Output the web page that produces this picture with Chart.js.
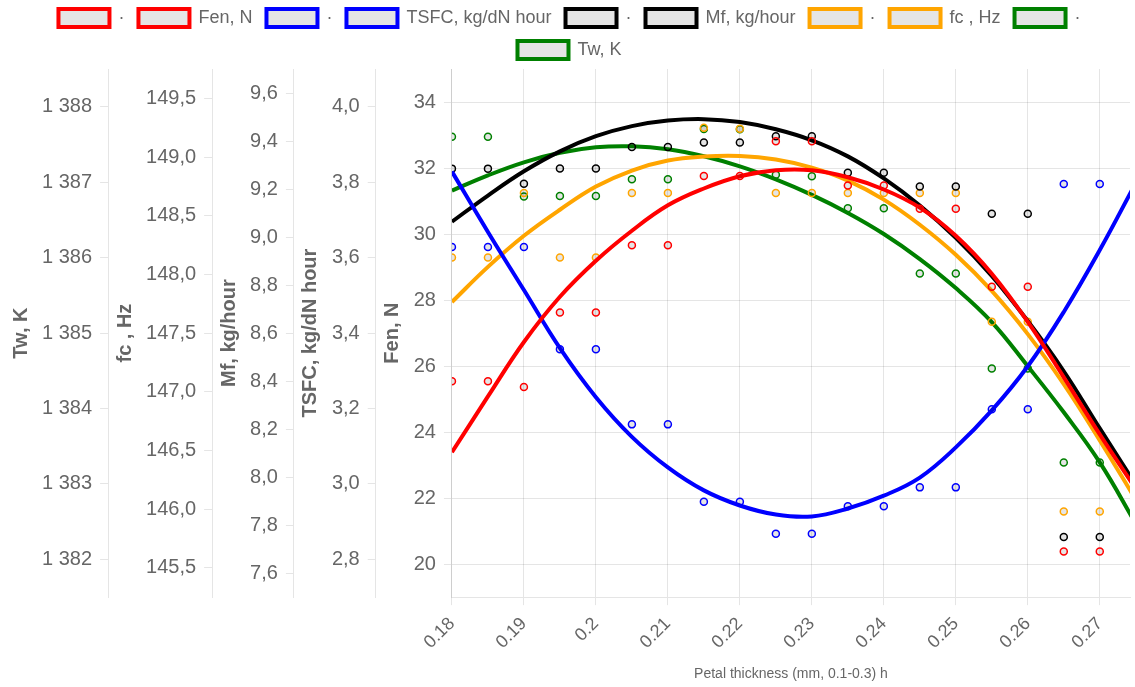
<!DOCTYPE html>
<html>
<head>
<meta charset="utf-8">
<script src="https://cdn.jsdelivr.net/npm/chart.js@4.4.1/dist/chart.umd.min.js"></script>
<style>
  html, body { margin: 0; padding: 0; background: #fff; overflow: hidden; }
  #wrap { position: absolute; left: 0; top: -5px; width: 1135px; height: 692px; }
</style>
</head>
<body>
<div id="wrap"><canvas id="chart"></canvas></div>
<script>
// measured points (petal thickness, mm)
const thickness = [0.18, 0.185, 0.19, 0.195, 0.2, 0.205, 0.21, 0.215, 0.22, 0.225,
                   0.23, 0.235, 0.24, 0.245, 0.25, 0.255, 0.26, 0.265, 0.27];
const fenPoints  = [25.54, 25.54, 25.37, 27.62, 27.62, 29.66, 29.66, 31.76, 31.76, 32.81,
                    32.81, 31.47, 31.47, 30.77, 30.77, 28.4, 28.4, 20.38, 20.38];
const tsfcPoints = [3.628, 3.628, 3.628, 3.357, 3.357, 3.158, 3.158, 2.953, 2.953, 2.868,
                    2.868, 2.941, 2.941, 2.991, 2.991, 3.198, 3.198, 3.795, 3.795];
const mfPoints   = [9.285, 9.285, 9.222, 9.286, 9.286, 9.375, 9.375, 9.394, 9.394, 9.42,
                    9.42, 9.268, 9.268, 9.211, 9.211, 9.097, 9.097, 7.751, 7.751];
const fcPoints   = [148.144, 148.144, 148.694, 148.144, 148.144, 148.694, 148.694, 149.25, 149.24, 148.694,
                    148.694, 148.694, 148.694, 148.694, 148.694, 147.597, 147.597, 145.979, 145.979];
const twPoints   = [1387.602, 1387.602, 1386.809, 1386.818, 1386.818, 1387.04, 1387.04, 1387.704, 1387.70, 1387.097,
                    1387.08, 1386.655, 1386.655, 1385.791, 1385.791, 1384.53, 1384.53, 1383.286, 1383.286];

const fitThickness = [0.18, 0.185, 0.19, 0.195, 0.2, 0.205, 0.21, 0.215, 0.22, 0.225,
                      0.23, 0.235, 0.24, 0.245, 0.25, 0.255, 0.26, 0.265, 0.27, 0.275];
const fenFit  = [23.39, 25.08, 26.73, 28.10, 29.19, 30.10, 30.87, 31.38, 31.75, 31.93,
                 31.93, 31.72, 31.35, 30.80, 29.95, 28.80, 27.34, 25.66, 23.93, 22.28];
const tsfcFit = [3.828, 3.668, 3.514, 3.360, 3.230, 3.125, 3.044, 2.983, 2.943, 2.919,
                 2.914, 2.935, 2.969, 3.017, 3.097, 3.195, 3.312, 3.456, 3.620, 3.798];
const mfFit   = [9.064, 9.173, 9.274, 9.357, 9.420, 9.462, 9.485, 9.491, 9.479, 9.449,
                 9.403, 9.336, 9.244, 9.131, 8.997, 8.838, 8.650, 8.441, 8.203, 7.968];
const fcFit   = [147.765, 148.064, 148.329, 148.551, 148.748, 148.885, 148.970, 149.004, 149.009, 148.979,
                 148.910, 148.799, 148.637, 148.423, 148.167, 147.859, 147.491, 147.064, 146.585, 146.081];
const twFit   = [1386.888, 1387.090, 1387.263, 1387.389, 1387.462, 1387.475, 1387.436, 1387.343, 1387.210, 1387.037,
                 1386.831, 1386.592, 1386.313, 1385.981, 1385.596, 1385.145, 1384.560, 1383.950, 1383.286, 1382.475];

// tick labels
const xTicks    = [0.18, 0.19, 0.2, 0.21, 0.22, 0.23, 0.24, 0.25, 0.26, 0.27];
const fenTicks  = [20, 22, 24, 26, 28, 30, 32, 34];
const tsfcTicks = [2.8, 3.0, 3.2, 3.4, 3.6, 3.8, 4.0];
const mfTicks   = [7.6, 7.8, 8.0, 8.2, 8.4, 8.6, 8.8, 9.0, 9.2, 9.4, 9.6];
const fcTicks   = [145.5, 146.0, 146.5, 147.0, 147.5, 148.0, 148.5, 149.0, 149.5];
const twTicks   = [1382, 1383, 1384, 1385, 1386, 1387, 1388];

const labels = ['·', 'Fen, N', '·', 'TSFC, kg/dN hour', '·', 'Mf, kg/hour', '·', 'fc , Hz', '·', 'Tw, K'];
const colors = ['red', 'blue', 'black', 'orange', 'green'];

Chart.defaults.font.family = "'Liberation Sans', Arial, sans-serif";
Chart.defaults.color = '#666';

const toXY = (xs, ys) => xs.map((x, i) => ({ x: x, y: ys[i] }));
const boxFill = 'rgba(0,0,0,0.1)';

function pointSet(label, color, axis, ys) {
  return {
    label: label, data: toXY(thickness, ys), yAxisID: axis, showLine: false,
    borderColor: color, backgroundColor: boxFill, borderWidth: 4,
    pointRadius: 3.5, pointBorderWidth: 1.5, pointHoverRadius: 3.5
  };
}
function fitSet(label, color, axis, ys) {
  return {
    label: label, data: toXY(fitThickness, ys), yAxisID: axis,
    borderColor: color, backgroundColor: boxFill, borderWidth: 4,
    pointRadius: 0, tension: 0.4, fill: false
  };
}

function yAxis(title, min, max, ticks, onArea) {
  return {
    type: 'linear', position: 'left', min: min, max: max,
    afterBuildTicks: axis => { axis.ticks = ticks.map(v => ({ value: v })); },
    ticks: { font: { size: 20 }, padding: 8 },
    grid: { drawOnChartArea: onArea, color: 'rgba(0,0,0,0.1)' },
    title: { display: true, text: title, font: { size: 20, weight: 'bold' }, padding: { top: 5, bottom: 1 } }
  };
}

new Chart(document.getElementById('chart'), {
  type: 'line',
  data: {
    datasets: [
      pointSet(labels[0], colors[0], 'yFen', fenPoints),
      fitSet(labels[1], colors[0], 'yFen', fenFit),
      pointSet(labels[2], colors[1], 'yTsfc', tsfcPoints),
      fitSet(labels[3], colors[1], 'yTsfc', tsfcFit),
      pointSet(labels[4], colors[2], 'yMf', mfPoints),
      fitSet(labels[5], colors[2], 'yMf', mfFit),
      pointSet(labels[6], colors[3], 'yFc', fcPoints),
      fitSet(labels[7], colors[3], 'yFc', fcFit),
      pointSet(labels[8], colors[4], 'yTw', twPoints),
      fitSet(labels[9], colors[4], 'yTw', twFit)
    ]
  },
  options: {
    responsive: true,
    maintainAspectRatio: false,
    animation: false,
    locale: 'ru-RU',
    layout: { padding: { left: 4, right: 0, top: 0, bottom: 0 } },
    plugins: {
      legend: {
        labels: { boxWidth: 51, font: { size: 18 }, padding: 14 }
      },
      tooltip: { enabled: false }
    },
    scales: {
      x: {
        type: 'linear', min: 0.18, max: 0.2742,
        afterBuildTicks: axis => { axis.ticks = xTicks.map(v => ({ value: v })); },
        ticks: { font: { size: 18 }, minRotation: 45, maxRotation: 45, padding: 8,
                 callback: v => String(v) },
        grid: { color: 'rgba(0,0,0,0.1)' },
        title: { display: true, text: 'Petal thickness (mm, 0.1-0.3) h', font: { size: 14 },
                 padding: { top: 5, bottom: 4 } }
      },
      yFen: yAxis('Fen, N', 19, 35, fenTicks, true),
      yTsfc: yAxis('TSFC, kg/dN hour', 2.7, 4.1, tsfcTicks, false),
      yMf: yAxis('Mf, kg/hour', 7.5, 9.7, mfTicks, false),
      yFc: yAxis('fc , Hz', 145.25, 149.75, fcTicks, false),
      yTw: yAxis('Tw, K', 1381.5, 1388.5, twTicks, false)
    }
  }
});
</script>
</body>
</html>
